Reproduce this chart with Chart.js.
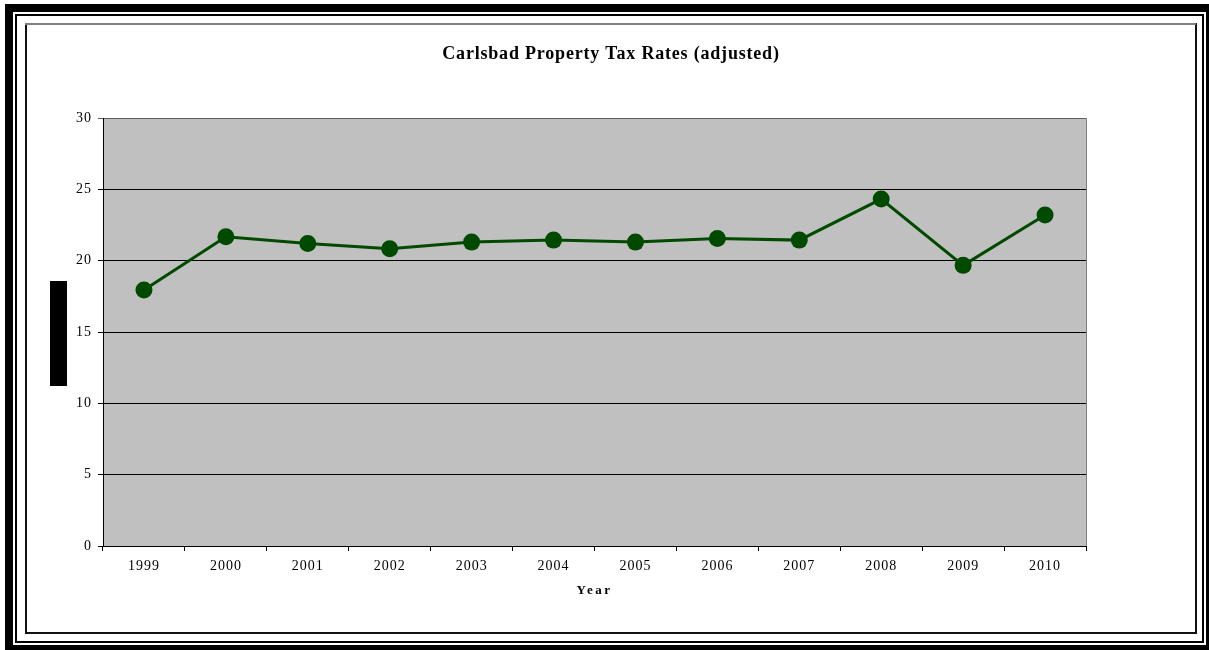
<!DOCTYPE html>
<html>
<head>
<meta charset="utf-8">
<title>Carlsbad Property Tax Rates (adjusted)</title>
<script src="https://cdn.jsdelivr.net/npm/chart.js@4/dist/chart.umd.min.js"></script>
<style>
  html, body { margin: 0; padding: 0; background: #fff; }
  #wrap { width: 1209px; height: 650px; position: relative; }
  canvas { display: block; }
</style>
</head>
<body>
<div id="wrap"><canvas id="chart" width="1209" height="650"></canvas></div>
<script>
// Chart content
const chartTitle = 'Carlsbad Property Tax Rates (adjusted)';
const xAxisTitle = 'Year';
const years = ['1999', '2000', '2001', '2002', '2003', '2004', '2005', '2006', '2007', '2008', '2009', '2010'];
const taxRates = [17.95, 21.68, 21.2, 20.83, 21.3, 21.44, 21.3, 21.56, 21.44, 24.32, 19.67, 23.2];
const yTicks = [0, 5, 10, 15, 20, 25, 30];

const SERIF = '"Liberation Serif", "Times New Roman", serif';

// Letter-spaced text, wider for the bold axis title
const spacedText = {
  id: 'spacedText',
  beforeInit(chart) {
    const ctx = chart.ctx;
    const proto = CanvasRenderingContext2D.prototype;
    ctx.fillText = function (t, x, y, mw) {
      const f = this.font;
      if (/bold 13px/.test(f)) this.letterSpacing = '2.5px';
      else if (/bold/.test(f)) this.letterSpacing = '0.8px';
      else this.letterSpacing = '1px';
      return mw === undefined ? proto.fillText.call(this, t, x, y) : proto.fillText.call(this, t, x, y, mw);
    };
  }
};

// Page frame, grey plot background and the dark y-axis title block
const frameAndPlot = {
  id: 'frameAndPlot',
  beforeDraw(chart) {
    const ctx = chart.ctx;
    const W = chart.width, H = chart.height;
    const a = chart.chartArea;
    ctx.save();
    ctx.fillStyle = '#ffffff';
    ctx.fillRect(0, 0, W, H);
    // heavy outer frame
    ctx.fillStyle = '#000000';
    ctx.fillRect(5, 4, 8, H - 4);
    ctx.fillRect(5, 4, W - 5, 8);
    ctx.fillRect(5, 645, W - 5, 5);
    ctx.fillRect(1206, 4, 3, H - 4);
    // thin black frame
    ctx.lineWidth = 2;
    ctx.strokeStyle = '#000000';
    ctx.strokeRect(16, 15, 1187, 627);
    // inner frame: grey top, dark on the other sides
    ctx.strokeStyle = '#111111';
    ctx.strokeRect(26, 24, 1170, 609);
    ctx.strokeStyle = '#808080';
    ctx.beginPath();
    ctx.moveTo(25, 24);
    ctx.lineTo(1196, 24);
    ctx.stroke();
    // plot area
    ctx.fillStyle = '#c0c0c0';
    ctx.fillRect(a.left, a.top, a.right - a.left, a.bottom - a.top);
    ctx.lineWidth = 1;
    ctx.strokeStyle = '#808080';
    ctx.beginPath();
    ctx.moveTo(a.right + 0.5, a.top);
    ctx.lineTo(a.right + 0.5, a.bottom);
    ctx.stroke();
    // y-axis title block
    const midY = (a.top + a.bottom) / 2;
    ctx.fillStyle = '#000000';
    ctx.fillRect(a.left - 53, midY - 51, 17, 105);
    ctx.restore();
  }
};

new Chart(document.getElementById('chart'), {
  type: 'line',
  data: {
    labels: years,
    datasets: [{
      label: 'Tax rate',
      data: taxRates,
      borderColor: '#004a00',
      backgroundColor: '#004a00',
      borderWidth: 3,
      pointRadius: 8.5,
      pointHoverRadius: 8.5,
      pointBackgroundColor: '#004a00',
      pointBorderColor: '#004a00',
      pointBorderWidth: 0,
      tension: 0,
      fill: false,
      yAxisID: 'y'
    }]
  },
  plugins: [spacedText, frameAndPlot],
  options: {
    responsive: false,
    animation: false,
    events: [],
    layout: { padding: { left: 26, right: 13, top: 24, bottom: 51.2 } },
    plugins: {
      legend: { display: false },
      tooltip: { enabled: false },
      title: {
        display: true,
        text: chartTitle,
        color: '#000000',
        font: { family: SERIF, size: 18, weight: 'bold', lineHeight: 1.2 },
        padding: { top: 19.2, bottom: 53.2 }
      }
    },
    scales: {
      x: {
        type: 'category',
        offset: true,
        grid: {
          offset: true,
          display: true,
          drawOnChartArea: false,
          drawTicks: true,
          tickLength: 5,
          color: '#000000',
          lineWidth: 1
        },
        border: { display: true, color: '#000000', width: 1 },
        ticks: {
          color: '#000000',
          font: { family: SERIF, size: 14, lineHeight: 1.2 },
          padding: 7,
          maxRotation: 0,
          autoSkip: false
        },
        title: {
          display: true,
          text: xAxisTitle,
          color: '#000000',
          font: { family: SERIF, size: 13, weight: 'bold', lineHeight: 1.2 },
          padding: { top: 4, bottom: 0 }
        },
        afterFit(scale) { scale.height = 52.8; }
      },
      y: {
        type: 'linear',
        position: 'left',
        min: 0,
        max: 30,
        afterBuildTicks(scale) { scale.ticks = yTicks.map(v => ({ value: v })); },
        grid: {
          display: true,
          drawOnChartArea: true,
          drawTicks: true,
          tickLength: 5,
          color: ctx => (ctx.tick && ctx.tick.value === 30 ? '#606060' : '#000000'),
          lineWidth: 1
        },
        border: { display: true, color: '#000000', width: 1 },
        ticks: {
          color: '#000000',
          font: { family: SERIF, size: 14, lineHeight: 1.2 },
          padding: 6
        },
        afterFit(scale) { scale.width = 77; }
      },
      yRight: {
        type: 'linear',
        position: 'right',
        display: true,
        grid: { display: false, drawTicks: false },
        border: { display: false },
        ticks: { display: false },
        afterFit(scale) { scale.width = 110; }
      }
    }
  }
});
</script>
</body>
</html>
